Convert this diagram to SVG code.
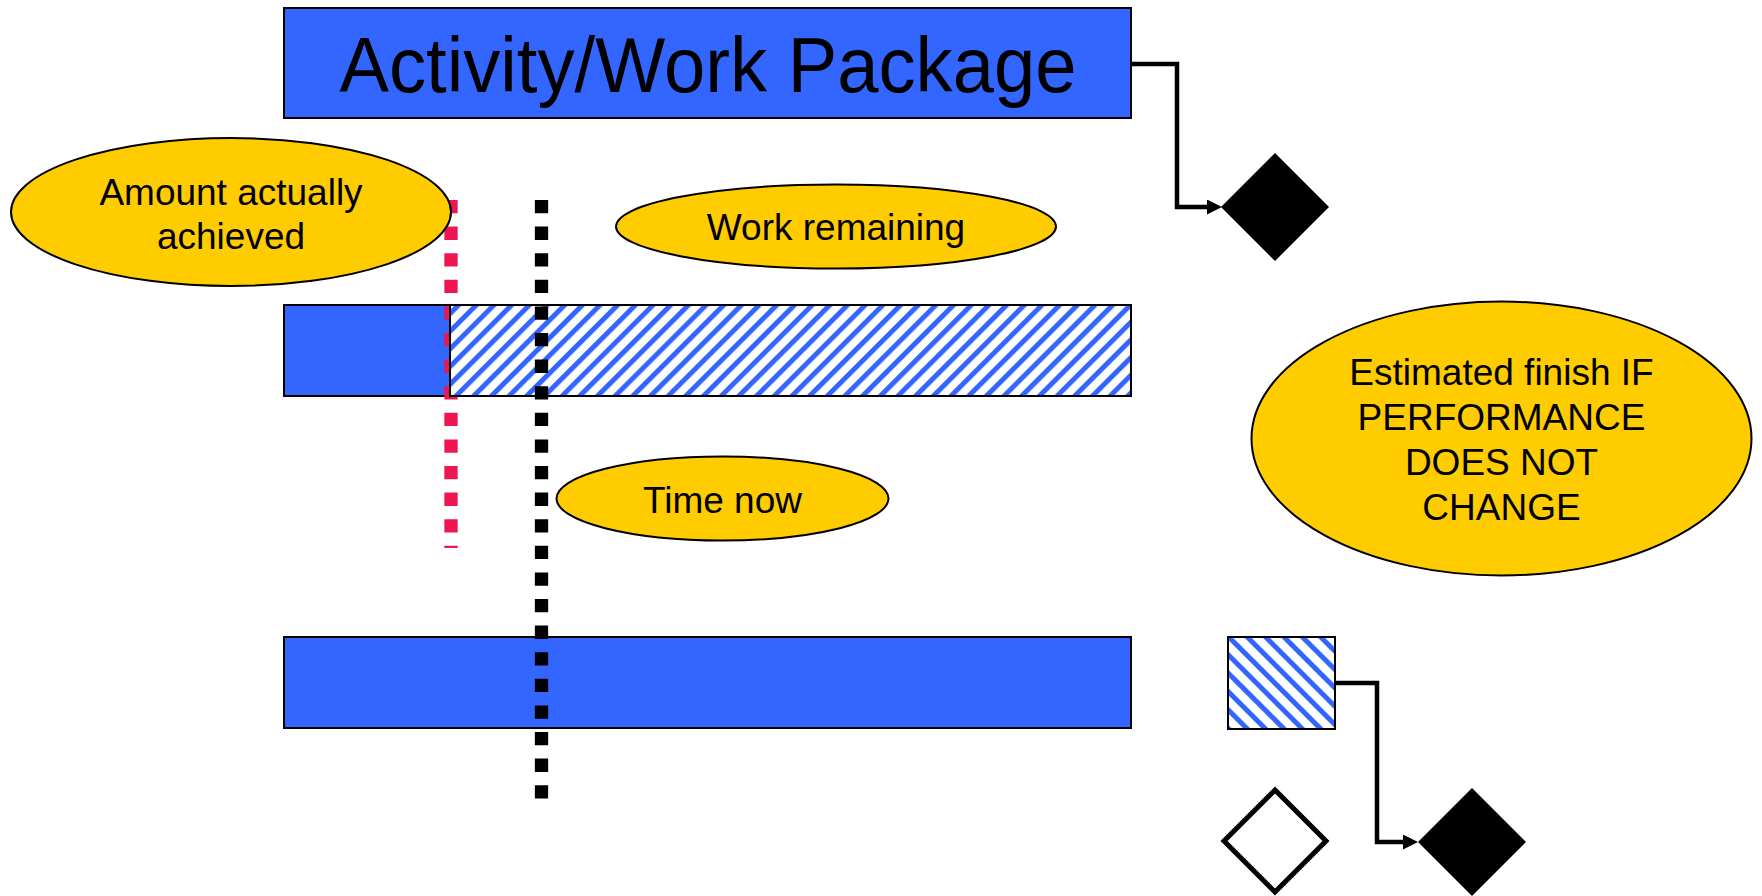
<svg xmlns="http://www.w3.org/2000/svg" width="1762" height="896" viewBox="0 0 1762 896">
  <defs>
    <style>
      .bar { fill: #3366FF; stroke: #000; stroke-width: 2; }
      .hatch { fill: url(#hatchUp); stroke: #000; stroke-width: 2; }
      .hatch2 { fill: url(#hatchDown); stroke: #000; stroke-width: 2; }
      .note { fill: #FFCC00; stroke: #000; stroke-width: 2; }
      .lbl { font-family: "Liberation Sans", Arial, sans-serif; font-size: 37px; fill: #000; text-anchor: middle; }
      .title { font-family: "Liberation Sans", Arial, sans-serif; font-size: 77px; fill: #000; text-anchor: middle; }
      .conn { fill: none; stroke: #000; stroke-width: 4.5; }
      .milestone { fill: #000; }
      .milestone-open { fill: #fff; stroke: #000; stroke-width: 5; }
      .dots { fill: none; stroke-width: 13.3; stroke-dasharray: 13.3 13.3; }
    </style>
    <pattern id="hatchUp" patternUnits="userSpaceOnUse" width="12.5" height="12.5" patternTransform="rotate(45)">
      <rect width="12.5" height="12.5" fill="#fff"/>
      <rect x="0" y="0" width="5" height="12.5" fill="#3366FF"/>
    </pattern>
    <pattern id="hatchDown" patternUnits="userSpaceOnUse" width="13" height="13" patternTransform="rotate(-45)">
      <rect width="13" height="13" fill="#fff"/>
      <rect x="0" y="0" width="5" height="13" fill="#3366FF"/>
    </pattern>
    <marker id="arrow" markerUnits="userSpaceOnUse" markerWidth="16" markerHeight="16" refX="0" refY="7.5" orient="auto">
      <path d="M0,0 L15,7.5 L0,15 z" fill="#000"/>
    </marker>
  </defs>

  <rect width="1762" height="896" fill="#fff"/>

  <!-- summary bar -->
  <g id="work-package">
    <rect class="bar" x="284" y="8" width="847" height="110"/>
    <text class="title" x="708" y="92" textLength="737" lengthAdjust="spacingAndGlyphs">Activity/Work Package</text>
  </g>

  <!-- progress bar: done part -->
  <g id="bar-done">
    <rect class="bar" x="284" y="305" width="166" height="91"/>
  </g>

  <!-- measured progress marker -->
  <g id="progress-line">
    <line class="dots" x1="451" y1="200" x2="451" y2="548" stroke="#ED1651"/>
  </g>

  <!-- progress bar: remaining part -->
  <g id="bar-remaining">
    <rect class="hatch" x="450" y="305" width="681" height="91"/>
  </g>

  <!-- baseline bar -->
  <g id="bar-planned">
    <rect class="bar" x="284" y="637" width="847" height="91"/>
  </g>

  <!-- forecast slip -->
  <g id="bar-extension">
    <rect class="hatch2" x="1228" y="637" width="107" height="92"/>
  </g>

  <!-- status date -->
  <g id="time-now-line">
    <line class="dots" x1="541.5" y1="200" x2="541.5" y2="800" stroke="#000"/>
  </g>

  <g id="note-achieved">
    <ellipse class="note" cx="231" cy="212" rx="220" ry="74"/>
    <text class="lbl" x="231" y="205">Amount actually</text>
    <text class="lbl" x="231" y="249">achieved</text>
  </g>

  <g id="note-remaining">
    <ellipse class="note" cx="836" cy="226.5" rx="220" ry="42"/>
    <text class="lbl" x="836" y="240">Work remaining</text>
  </g>

  <g id="note-time-now">
    <ellipse class="note" cx="722.5" cy="498.5" rx="166" ry="42"/>
    <text class="lbl" x="722.5" y="512.5">Time now</text>
  </g>

  <g id="note-estimate">
    <ellipse class="note" cx="1501.5" cy="438.5" rx="250" ry="137"/>
    <text class="lbl" x="1501.5" y="385">Estimated finish IF</text>
    <text class="lbl" x="1501.5" y="429.5">PERFORMANCE</text>
    <text class="lbl" x="1501.5" y="474.5">DOES NOT</text>
    <text class="lbl" x="1501.5" y="519.5">CHANGE</text>
  </g>

  <g id="milestone-planned">
    <polygon class="milestone" points="1275,153 1329,207 1275,261 1221,207"/>
  </g>

  <g id="milestone-original">
    <polygon class="milestone-open" points="1275,790 1326,841 1275,892 1224,841"/>
  </g>

  <g id="milestone-forecast">
    <polygon class="milestone" points="1472,788 1526,842 1472,896 1418,842"/>
  </g>

  <g id="connectors">
    <path class="conn" d="M1131,64 H1177 V207 H1207" marker-end="url(#arrow)"/>
    <path class="conn" d="M1335,683 H1377 V842 H1403" marker-end="url(#arrow)"/>
  </g>
</svg>
